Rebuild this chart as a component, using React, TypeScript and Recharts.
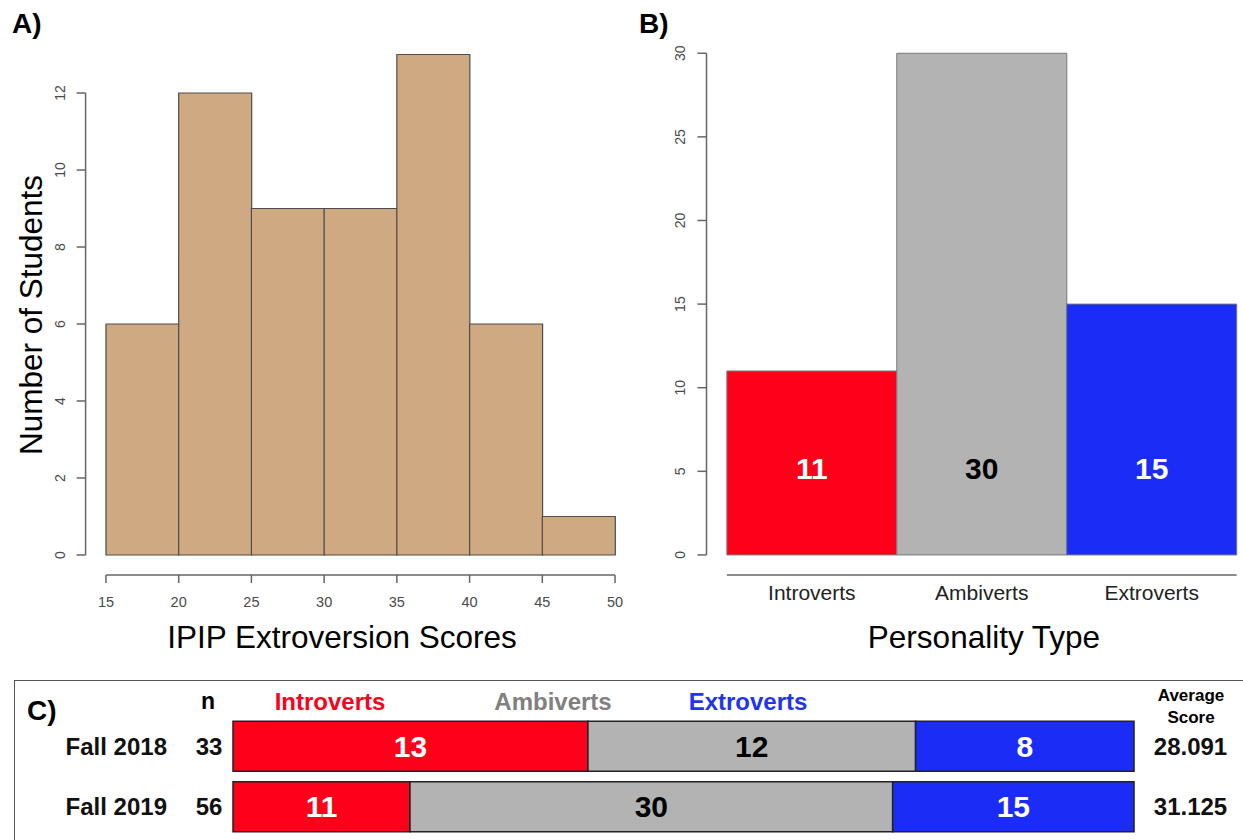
import React from "react";
import {
  BarChart,
  Bar,
  XAxis,
  YAxis,
  Cell,
  ReferenceLine,
  LabelList,
} from "recharts";

// A) histogram of IPIP extroversion scores
const scoreBins = ["15-20", "20-25", "25-30", "30-35", "35-40", "40-45", "45-50"];
const binStarts = [15, 20, 25, 30, 35, 40, 45];
const studentCounts = [6, 12, 9, 9, 13, 6, 1];
const scoreTicks = [15, 20, 25, 30, 35, 40, 45, 50];
const countTicks = [0, 2, 4, 6, 8, 10, 12];

// B) personality type counts
const personalityTypes = ["Introverts", "Ambiverts", "Extroverts"];
const personalityCounts = [11, 30, 15];
const personalityTicks = [0, 5, 10, 15, 20, 25, 30];

// C) by semester
const terms = ["Fall 2018", "Fall 2019"];
const termN = [33, 56];
const termIntroverts = [13, 11];
const termAmbiverts = [12, 30];
const termExtroverts = [8, 15];
const termAverage = [28.091, 31.125];

const FONT = "'Liberation Sans', Arial, Helvetica, sans-serif";
const RED = "#fe0019";
const GRAY = "#b3b3b3";
const BLUE = "#1a2cf5";
const TAN = "#cfa982";
const AXIS = "#666666";
const TICK_TEXT = "#4a4a4a";

const typeColors = [RED, GRAY, BLUE];
const typeLabelColors = ["#ffffff", "#000000", "#ffffff"];

const histData = scoreBins.map((bin, i) => ({
  bin,
  start: binStarts[i],
  count: studentCounts[i],
}));
const typeData = personalityTypes.map((type, i) => ({
  type,
  slot: i,
  count: personalityCounts[i],
}));
const termData = terms.map((term, i) => ({
  term,
  n: termN[i],
  introverts: termIntroverts[i],
  ambiverts: termAmbiverts[i],
  extroverts: termExtroverts[i],
  avg: termAverage[i],
}));

// R-style 4% axis extension
const scoreLo = scoreTicks[0];
const scoreHi = scoreTicks[scoreTicks.length - 1];
const scoreExt = (scoreHi - scoreLo) * 0.04;
const countMax = Math.max(...studentCounts);
const countExt = countMax * 0.04;
const typeExt = personalityTypes.length * 0.04;
const typeMax = Math.max(...personalityCounts);
const typeYExt = typeMax * 0.04;

const A = { w: 640, h: 660, top: 34.5, right: 4.6, bottom: 45, left: 45.6, yw: 40 };
const aPlotW = A.w - A.right - A.left - A.yw;
const aPad = (aPlotW * scoreExt) / (scoreHi - scoreLo + 2 * scoreExt);

const B = { w: 623, h: 660, top: 33.2, right: -14, bottom: 45, left: 46.5, yw: 40 };
const bPlotW = B.w - B.right - B.left - B.yw;
const bPad = (bPlotW * typeExt) / (personalityTypes.length + 2 * typeExt);
const LABEL_LEVEL = 5.2;

const rotatedTick = (p: any) => (
  <text
    x={p.x - 12}
    y={p.y}
    transform={`rotate(-90, ${p.x - 12}, ${p.y})`}
    textAnchor="middle"
    fontSize={14}
    fill={TICK_TEXT}
    fontFamily={FONT}
  >
    {p.payload.value}
  </text>
);

const scoreTick = (p: any) => (
  <text x={p.x} y={p.y + 24} textAnchor="middle" fontSize={14.5} fill={TICK_TEXT} fontFamily={FONT}>
    {p.payload.value}
  </text>
);

const typeTick = (p: any) => (
  <text x={p.x} y={p.y + 25} textAnchor="middle" fontSize={21} fill="#222" fontFamily={FONT}>
    {p.payload.value}
  </text>
);

const typeLabel = (props: any) => {
  const vb = props.viewBox ?? props;
  const { x, y, width, height } = vb;
  const value = Number(props.value);
  const unit = height / value;
  const cy = y + height - unit * LABEL_LEVEL;
  const idx = personalityCounts.indexOf(value);
  return (
    <text
      x={x + width / 2}
      y={cy + 11}
      textAnchor="middle"
      fontSize={30}
      fontWeight="bold"
      fill={typeLabelColors[idx]}
      fontFamily={FONT}
    >
      {value}
    </text>
  );
};

const termTick = (p: any) => {
  const i = p.index ?? terms.indexOf(p.payload.value);
  return (
    <g fontFamily={FONT} fontWeight="bold" fontSize={24} fill="#111">
      <text x={p.x - 66} y={p.y + 8.6} textAnchor="end">
        {p.payload.value}
      </text>
      <text x={p.x - 24} y={p.y + 8.6} textAnchor="middle">
        {termN[i]}
      </text>
    </g>
  );
};

const avgTick = (p: any) => (
  <text
    x={p.x + 56.5}
    y={p.y + 8.6}
    textAnchor="middle"
    fontFamily={FONT}
    fontWeight="bold"
    fontSize={24}
    fill="#111"
  >
    {Number(p.payload.value).toFixed(3)}
  </text>
);

function Histogram() {
  return (
    <BarChart
      width={A.w}
      height={A.h}
      data={histData}
      barCategoryGap={0}
      margin={{ top: A.top, right: A.right, bottom: A.bottom, left: A.left }}
    >
      <XAxis xAxisId="bins" dataKey="bin" hide height={0} padding={{ left: aPad, right: aPad }} />
      <XAxis
        xAxisId="score"
        dataKey="start"
        type="number"
        domain={[scoreLo - scoreExt, scoreHi + scoreExt]}
        allowDataOverflow
        ticks={scoreTicks}
        interval={0}
        axisLine={false}
        tickLine={{ stroke: AXIS, strokeWidth: 1.5 }}
        tickSize={8}
        tickMargin={0}
        tick={scoreTick}
        height={40}
      />
      <YAxis
        type="number"
        domain={[-countExt, countMax + countExt]}
        allowDataOverflow
        ticks={countTicks}
        interval={0}
        axisLine={false}
        tickLine={{ stroke: AXIS, strokeWidth: 1.5 }}
        tickSize={9}
        tickMargin={0}
        tick={rotatedTick}
        width={A.yw}
      />
      <ReferenceLine
        xAxisId="score"
        segment={[
          { x: scoreLo - scoreExt, y: countTicks[0] },
          { x: scoreLo - scoreExt, y: countTicks[countTicks.length - 1] },
        ]}
        stroke={AXIS}
        strokeWidth={1.5}
        ifOverflow="visible"
      />
      <ReferenceLine
        xAxisId="score"
        segment={[
          { x: scoreLo, y: -countExt },
          { x: scoreHi, y: -countExt },
        ]}
        stroke={AXIS}
        strokeWidth={1.5}
        ifOverflow="visible"
      />
      <Bar
        xAxisId="bins"
        dataKey="count"
        fill={TAN}
        stroke="#4d4d4d"
        strokeWidth={1.2}
        isAnimationActive={false}
      />
    </BarChart>
  );
}

function TypeChart() {
  return (
    <BarChart
      width={B.w}
      height={B.h}
      data={typeData}
      barCategoryGap={0}
      margin={{ top: B.top, right: B.right, bottom: B.bottom, left: B.left }}
    >
      <XAxis
        dataKey="type"
        padding={{ left: bPad, right: bPad }}
        axisLine={false}
        tickLine={false}
        tickSize={0}
        tickMargin={0}
        tick={typeTick}
        interval={0}
        height={40}
      />
      <XAxis
        xAxisId="frame"
        dataKey="slot"
        type="number"
        hide
        height={0}
        domain={[-typeExt, personalityTypes.length + typeExt]}
        allowDataOverflow
      />
      <YAxis
        type="number"
        domain={[-typeYExt, typeMax + typeYExt]}
        allowDataOverflow
        ticks={personalityTicks}
        interval={0}
        axisLine={false}
        tickLine={{ stroke: AXIS, strokeWidth: 1.5 }}
        tickSize={9}
        tickMargin={0}
        tick={rotatedTick}
        width={B.yw}
      />
      <ReferenceLine
        xAxisId="frame"
        segment={[
          { x: -typeExt, y: personalityTicks[0] },
          { x: -typeExt, y: personalityTicks[personalityTicks.length - 1] },
        ]}
        stroke={AXIS}
        strokeWidth={1.5}
        ifOverflow="visible"
      />
      <ReferenceLine
        xAxisId="frame"
        segment={[
          { x: 0, y: -typeYExt },
          { x: personalityTypes.length, y: -typeYExt },
        ]}
        stroke={AXIS}
        strokeWidth={1.5}
        ifOverflow="visible"
      />
      <Bar dataKey="count" stroke="#777" strokeWidth={1} isAnimationActive={false}>
        {typeData.map((_, i) => (
          <Cell key={`type-${i}`} fill={typeColors[i]} />
        ))}
        <LabelList dataKey="count" content={typeLabel} />
      </Bar>
    </BarChart>
  );
}

function TermChart() {
  const labelStyle = { fontSize: 30, fontWeight: "bold", fontFamily: FONT };
  return (
    <BarChart
      width={1243}
      height={160}
      data={termData}
      layout="vertical"
      stackOffset="expand"
      barCategoryGap="8.7%"
      margin={{ top: 36, right: 0, bottom: 3, left: 0 }}
    >
      <XAxis type="number" hide height={0} />
      <YAxis
        type="category"
        dataKey="term"
        width={233}
        axisLine={false}
        tickLine={false}
        tickSize={0}
        tickMargin={0}
        tick={termTick}
      />
      <YAxis
        yAxisId="avg"
        type="category"
        dataKey="avg"
        orientation="right"
        width={109}
        axisLine={false}
        tickLine={false}
        tickSize={0}
        tickMargin={0}
        tick={avgTick}
      />
      <Bar dataKey="introverts" stackId="t" fill={RED} stroke="#222" strokeWidth={1.5} isAnimationActive={false}>
        <LabelList dataKey="introverts" position="center" fill="#fff" {...labelStyle} />
      </Bar>
      <Bar dataKey="ambiverts" stackId="t" fill={GRAY} stroke="#222" strokeWidth={1.5} isAnimationActive={false}>
        <LabelList dataKey="ambiverts" position="center" fill="#000" {...labelStyle} />
      </Bar>
      <Bar dataKey="extroverts" stackId="t" fill={BLUE} stroke="#222" strokeWidth={1.5} isAnimationActive={false}>
        <LabelList dataKey="extroverts" position="center" fill="#fff" {...labelStyle} />
      </Bar>
    </BarChart>
  );
}

export default function App() {
  return (
    <div
      style={{
        position: "absolute",
        left: 0,
        top: 0,
        width: 1243,
        height: 840,
        overflow: "hidden",
        background: "#fff",
        fontFamily: FONT,
      }}
    >
      <div style={{ position: "absolute", left: 0, top: 0 }}>
        <Histogram />
      </div>
      <div style={{ position: "absolute", left: 620, top: 0 }}>
        <TypeChart />
      </div>
      <div
        style={{
          position: "absolute",
          left: 14,
          top: 680,
          width: 1260,
          height: 200,
          border: "1.5px solid #555",
        }}
      />
      <div style={{ position: "absolute", left: 0, top: 680 }}>
        <TermChart />
      </div>
      <svg
        width={1243}
        height={840}
        style={{ position: "absolute", left: 0, top: 0, pointerEvents: "none" }}
        fontFamily={FONT}
      >
        <text x={12} y={33} fontSize={28} fontWeight="bold">A)</text>
        <text x={639} y={33} fontSize={28} fontWeight="bold">B)</text>
        <text
          x={42}
          y={315}
          transform="rotate(-90, 42, 315)"
          textAnchor="middle"
          fontSize={31.5}
        >
          Number of Students
        </text>
        <text x={342} y={648} textAnchor="middle" fontSize={31.5}>
          IPIP Extroversion Scores
        </text>
        <text x={984} y={648} textAnchor="middle" fontSize={31.5}>
          Personality Type
        </text>
        <text x={27} y={720} fontSize={28} fontWeight="bold">C)</text>
        <g fontWeight="bold" textAnchor="middle">
          <text x={208} y={709} fontSize={23}>n</text>
          <text x={330} y={710} fontSize={24} fill={RED}>Introverts</text>
          <text x={553} y={710} fontSize={24} fill="#808080">Ambiverts</text>
          <text x={748} y={710} fontSize={24} fill="#1f35f2">Extroverts</text>
          <text x={1191} y={701} fontSize={17}>Average</text>
          <text x={1191} y={723} fontSize={17}>Score</text>
        </g>
      </svg>
    </div>
  );
}
